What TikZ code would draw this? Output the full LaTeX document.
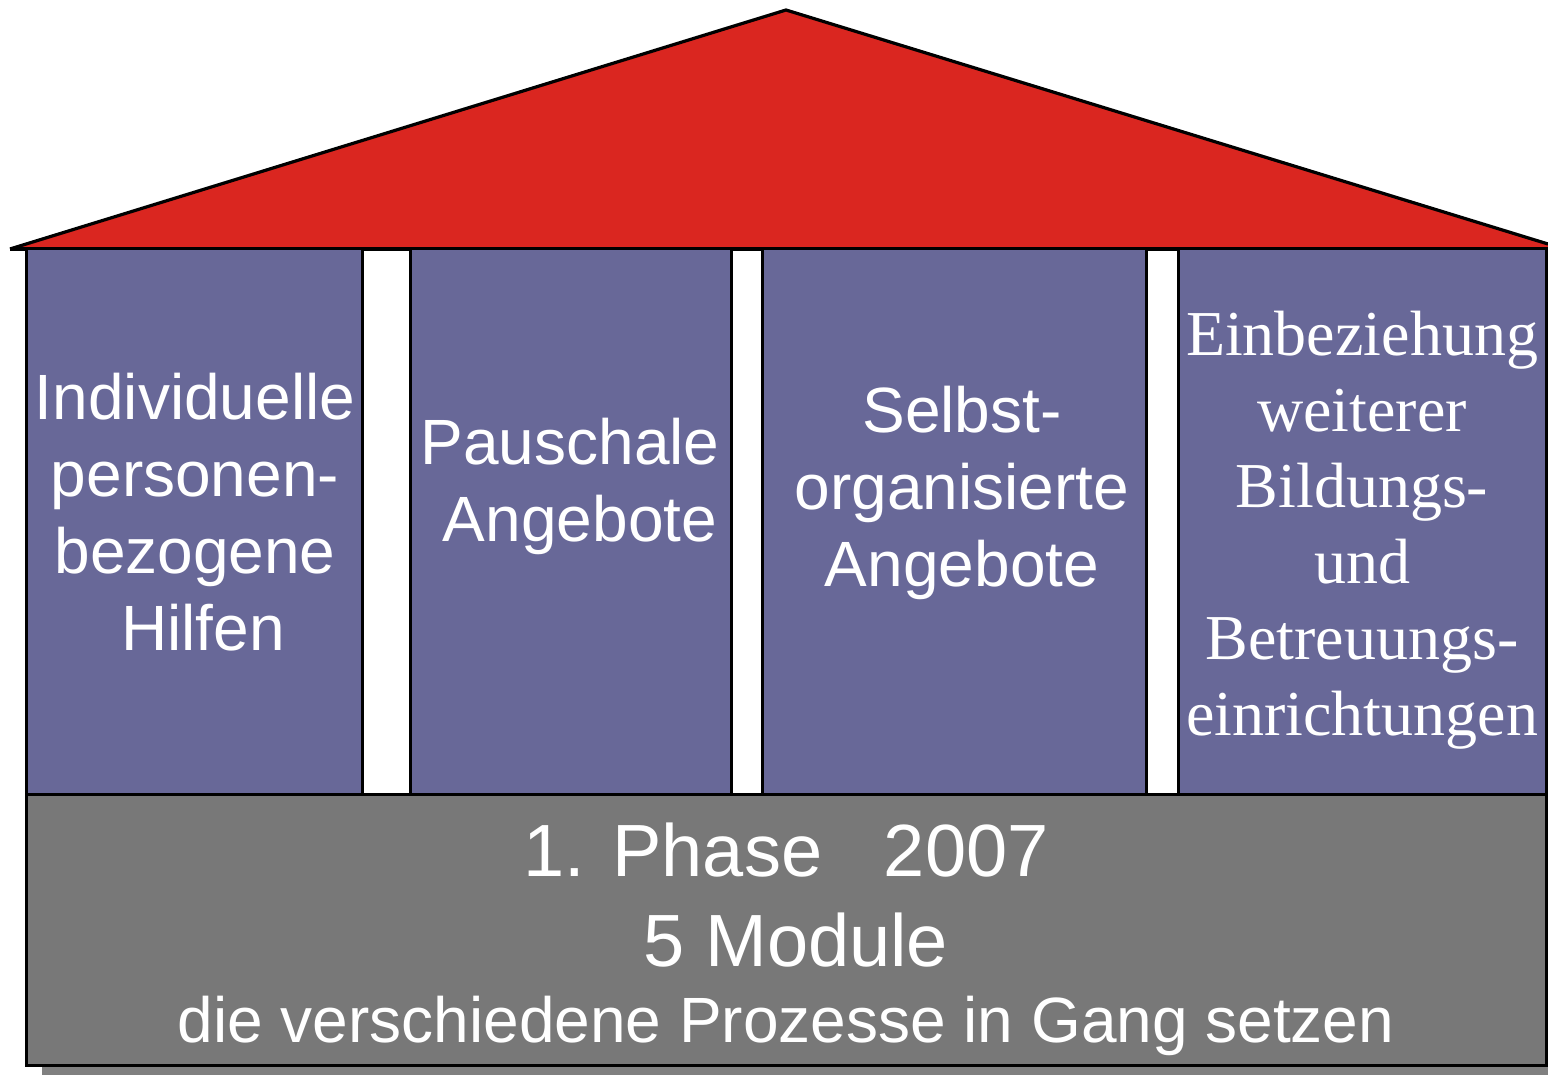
\documentclass[tikz,border=0pt]{standalone}
\usepackage{fontspec}
\setmainfont{Liberation Serif}
\setsansfont{Liberation Sans}
\definecolor{roofred}{RGB}{218,38,32}
\definecolor{pillar}{RGB}{104,104,152}
\definecolor{basegray}{RGB}{120,120,120}
\definecolor{shadowgray}{RGB}{128,128,128}
\begin{document}
\begin{tikzpicture}[x=0.5pt,y=-0.5pt,
  pillarbox/.style={fill=pillar,draw=black,line width=1.5pt},
  ptext/.style={text=white,align=center,font=\sffamily\fontsize{32}{38.5}\selectfont,inner sep=0pt},
  ptextserif/.style={text=white,align=center,font=\rmfamily\fontsize{32}{38}\selectfont,inner sep=0pt},
  btext/.style={text=white,align=center,inner sep=0pt}]
\useasboundingbox (0,0) rectangle (1548,1075);
% base shadow
\fill[shadowgray] (42,805) rectangle (1562,1075);
% roof
\coordinate (rl) at (10,249);
\coordinate (rt) at (786,10);
\coordinate (rr) at (1548,244);
\coordinate (rb) at (1548,249);
\fill[roofred] (rl) -- (rt) -- (rr) -- (rb) -- cycle;
\draw[line width=1.6pt,line join=round] (rl) -- (rt) -- (rr);
\draw[line width=1.6pt] (rl) -- (rb);
% pillars
\draw[pillarbox] (26,249) rectangle (362,794);
\draw[pillarbox] (410,249) rectangle (731,794);
\draw[pillarbox] (762,249) rectangle (1146,794);
\draw[pillarbox] (1178,249) rectangle (1546,794);
% base
\draw[fill=basegray,draw=black,line width=1.5pt] (26,794) rectangle (1546,1065);
% texts
\node[ptext] (p1) at (195,512) {Individuelle\\personen-\\bezogene\\\hspace*{8pt}Hilfen};
\node[ptext] (p2) at (570,486) {Pauschale\\\hspace*{10pt}Angebote};
\node[ptext] (p3) at (962,493) {Selbst-\\organisierte\\Angebote};
\node[ptextserif] (p4) at (1362,530) {Einbeziehung\\weiterer\\Bildungs-\\und\\Betreuungs-\\einrichtungen};
\node[btext,font=\sffamily\fontsize{37}{44}\selectfont] (b1) at (786,850) {1. Phase \ \ 2007};
\node[btext,font=\sffamily\fontsize{37}{44}\selectfont] (b2) at (796,940) {5 Module};
\node[btext,font=\sffamily\fontsize{32}{38}\selectfont] (b3) at (786,1026) {die verschiedene Prozesse in Gang setzen};
\end{tikzpicture}
\end{document}
